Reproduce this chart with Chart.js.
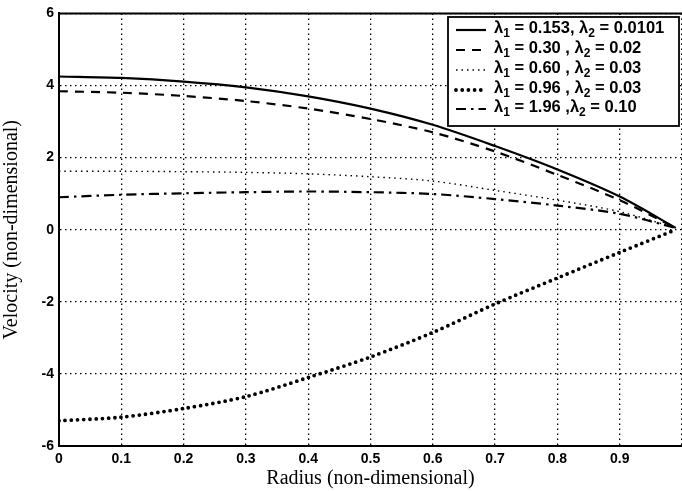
<!DOCTYPE html>
<html><head><meta charset="utf-8">
<script src="https://cdn.jsdelivr.net/npm/chart.js@4.4.1/dist/chart.umd.min.js"></script>
<style>html,body{margin:0;padding:0;background:#fff}#wrap{width:682px;height:491px;position:relative}</style>
</head><body><div id="wrap"><canvas id="c"></canvas></div>
<script>
// ---- data ----
const radius = [0, 0.1, 0.2, 0.3, 0.4, 0.5, 0.6, 0.7, 0.8, 0.9, 0.99];
const velA = [4.25, 4.21, 4.11, 3.95, 3.70, 3.36, 2.91, 2.32, 1.67, 0.92, 0.05];
const velB = [3.84, 3.80, 3.71, 3.57, 3.36, 3.07, 2.70, 2.17, 1.52, 0.82, 0.05];
const velC = [1.62, 1.62, 1.61, 1.59, 1.55, 1.47, 1.35, 1.09, 0.82, 0.50, 0.05];
const velD = [-5.30, -5.20, -4.96, -4.63, -4.10, -3.53, -2.85, -2.06, -1.34, -0.63, 0.00];
const velE = [0.90, 0.97, 1.01, 1.04, 1.06, 1.04, 0.99, 0.85, 0.67, 0.44, 0.05];
const seriesLabels = [
  'λ₁ = 0.153, λ₂ = 0.0101',
  'λ₁ = 0.30 , λ₂ = 0.02',
  'λ₁ = 0.60 , λ₂ = 0.03',
  'λ₁ = 0.96 , λ₂ = 0.03',
  'λ₁ = 1.96 ,λ₂ = 0.10'
];
const xTickValues = [0, 0.1, 0.2, 0.3, 0.4, 0.5, 0.6, 0.7, 0.8, 0.9];
const yTickValues = [-6, -4, -2, 0, 2, 4, 6];
const xTitle = 'Radius (non-dimensional)';
const yTitle = 'Velocity (non-dimensional)';

const pts = v => radius.map((r, i) => ({x: r, y: v[i]}));
const styles = [
  {borderWidth: 2.2, borderDash: [], borderCapStyle: 'butt'},
  {borderWidth: 2.2, borderDash: [9, 7], borderCapStyle: 'butt'},
  {borderWidth: 1.4, borderDash: [1.5, 4], borderCapStyle: 'butt'},
  {borderWidth: 3.8, borderDash: [0, 6.2], borderCapStyle: 'round'},
  {borderWidth: 2.2, borderDash: [10, 5, 2.5, 5], borderCapStyle: 'butt'}
];
const vals = [velA, velB, velC, velD, velE];
const datasets = vals.map((v, i) => Object.assign({
  label: seriesLabels[i], data: pts(v), borderColor: '#000', backgroundColor: '#000',
  pointRadius: 0, tension: 0.3, fill: false
}, styles[i]));

const frame = {
  id: 'frame',
  afterDraw(chart) {
    const {ctx, chartArea: a} = chart;
    ctx.save();
    ctx.strokeStyle = '#000'; ctx.lineWidth = 2; ctx.setLineDash([]);
    ctx.beginPath();
    ctx.moveTo(a.left, a.top); ctx.lineTo(a.right + 2, a.top);
    ctx.stroke();
    ctx.restore();
  }
};

function drawRich(ctx, text, x, y, size) {
  const subMap = {'₀':'0','₁':'1','₂':'2','₃':'3'};
  let cx = x;
  for (const ch of text) {
    if (subMap[ch]) {
      ctx.font = 'bold ' + Math.round(size * 0.72) + 'px "Liberation Sans", Arial, sans-serif';
      ctx.fillText(subMap[ch], cx, y + size * 0.32);
      cx += ctx.measureText(subMap[ch]).width;
    } else {
      ctx.font = 'bold ' + size + 'px "Liberation Sans", Arial, sans-serif';
      ctx.fillText(ch, cx, y);
      cx += ctx.measureText(ch).width;
    }
  }
}

const boxLegend = {
  id: 'boxLegend',
  afterDatasetsDraw(chart) {
    const ctx = chart.ctx;
    const L = 448, T = 17, R = 679, B = 126;
    ctx.save();
    ctx.fillStyle = '#fff'; ctx.fillRect(L, T, R - L, B - T);
    ctx.strokeStyle = '#000'; ctx.lineWidth = 1.8; ctx.setLineDash([]);
    ctx.strokeRect(L, T, R - L, B - T);
    const rows = [28, 48, 68, 88, 107];
    chart.data.datasets.forEach((ds, i) => {
      const y = rows[i];
      ctx.strokeStyle = '#000';
      ctx.lineWidth = ds.borderWidth;
      ctx.lineCap = ds.borderCapStyle;
      ctx.setLineDash(ds.borderDash);
      ctx.beginPath(); ctx.moveTo(456, y + 2); ctx.lineTo(486, y + 2); ctx.stroke();
      ctx.setLineDash([]);
      ctx.fillStyle = '#000'; ctx.textBaseline = 'middle'; ctx.textAlign = 'left';
      drawRich(ctx, ds.label, 494, y, 16.5);
    });
    ctx.restore();
  }
};

new Chart(document.getElementById('c'), {
  type: 'line',
  data: {datasets},
  options: {
    responsive: true, maintainAspectRatio: false, animation: false,
    layout: {padding: {top: 13, right: 0, left: 0, bottom: 0}},
    plugins: {legend: {display: false}, tooltip: {enabled: false}},
    scales: {
      x: {
        type: 'linear', min: 0, max: 1,
        afterBuildTicks: s => { s.ticks = xTickValues.concat([1]).map(v => ({value: v})); },
        afterFit: s => { s.height = 45; s.paddingLeft = 0; s.paddingRight = 0; },
        ticks: {
          callback: v => (v >= 1 ? '' : String(+v.toFixed(1))),
          color: '#000', padding: 5, maxRotation: 0, autoSkip: false,
          font: {family: '"Liberation Sans", Arial, sans-serif', size: 14, weight: 'bold'}
        },
        grid: {color: '#000', lineWidth: 1.3, drawTicks: false},
        border: {display: true, color: '#000', width: 2, dash: [1.5, 3.5]},
        title: {display: true, text: xTitle, color: '#000', padding: {top: 0, bottom: 0},
          font: {family: '"Liberation Serif", "Times New Roman", serif', size: 20}}
      },
      y: {
        min: -6, max: 6,
        afterBuildTicks: s => { s.ticks = yTickValues.map(v => ({value: v})); },
        afterFit: s => { s.width = 59; },
        ticks: {
          color: '#000', padding: 5,
          font: {family: '"Liberation Sans", Arial, sans-serif', size: 14, weight: 'bold'}
        },
        grid: {color: '#000', lineWidth: 1.3, drawTicks: false},
        border: {display: true, color: '#000', width: 2, dash: [1.5, 3.5]},
        title: {display: true, text: yTitle, color: '#000', padding: {top: 0, bottom: 2},
          font: {family: '"Liberation Serif", "Times New Roman", serif', size: 20}}
      }
    }
  },
  plugins: [frame, boxLegend]
});
</script>
</body></html>
